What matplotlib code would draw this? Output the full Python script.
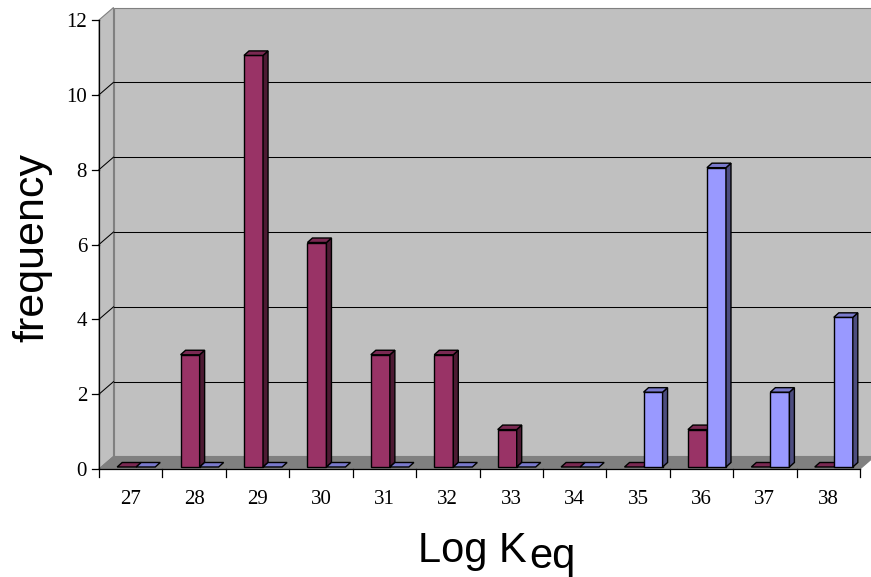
"""
3D-style column histogram of Log Keq (Excel look) drawn with plain matplotlib.
"""
import matplotlib
matplotlib.use('Agg')
import matplotlib.pyplot as plt
import numpy as np
from matplotlib.patches import Polygon
from matplotlib.lines import Line2D
from matplotlib.transforms import IdentityTransform, ScaledTranslation
from matplotlib.colors import to_rgb

# Data
categories = ['27', '28', '29', '30', '31', '32', '33', '34', '35', '36', '37', '38']
series_a = [0, 3, 11, 6, 3, 3, 1, 0, 0, 1, 0, 0]     # maroon
series_b = [0, 0, 0, 0, 0, 0, 0, 0, 2, 8, 2, 4]      # periwinkle
y_ticks = [0, 2, 4, 6, 8, 10, 12]

# Style
DPI = 100
W, H = 871, 577
colors = ['#993366', '#9999FF']
wall_color = '#C0C0C0'
floor_color = '#808080'
edge_gray = '#808080'
WALL_D = (14.5, 12.5)     # depth of the walls, pixels (x right, y up)
BAR_OFF = (5.5, 2.0)      # bar front plane relative to front axis
BAR_D = (5.0, 4.5)        # bar depth
BAR_W = 0.3               # bar width in category units

fig = plt.figure(figsize=(W / DPI, H / DPI), dpi=DPI)
ax = fig.add_axes([99 / W, (H - 469) / H, (860 - 99) / W, (469 - 20) / H])
ax.set_xlim(0, len(categories))
ax.set_ylim(0, 12)
ax.axis('off')

idt = IdentityTransform()


def px(x, y, d=(0, 0)):
    """Data point -> display pixels, pushed back by a depth offset."""
    X, Y = ax.transData.transform((x, y))
    return (X + d[0], Y + d[1])


def add(d1, d2):
    return (d1[0] + d2[0], d1[1] + d2[1])


def poly(pts, fc, ec, lw=0.8, z=1):
    p = Polygon(pts, closed=True, facecolor=fc, edgecolor=ec, linewidth=lw,
                transform=idt, clip_on=False, zorder=z)
    fig.add_artist(p)


def line(p0, p1, color='black', lw=0.75, z=2):
    fig.add_artist(Line2D([p0[0], p1[0]], [p0[1], p1[1]], color=color,
                          linewidth=lw, transform=idt, zorder=z))


n = len(categories)
top = y_ticks[-1]

# walls and floor
poly([px(0, 0, WALL_D), px(n, 0, WALL_D), px(n, top, WALL_D), px(0, top, WALL_D)],
     wall_color, edge_gray, z=1)
poly([px(0, 0), px(0, top), px(0, top, WALL_D), px(0, 0, WALL_D)],
     wall_color, edge_gray, z=1)
poly([px(0, 0), px(n, 0), px(n, 0, WALL_D), px(0, 0, WALL_D)],
     floor_color, edge_gray, z=1.5)

# gridlines on back and side wall
for v in y_ticks[1:-1]:
    line(px(0, v, WALL_D), px(n, v, WALL_D), z=1.6)
    line(px(0, v), px(0, v, WALL_D), z=1.6)

# front axes
line(px(0, 0), px(0, top), lw=0.9, z=5)
line(px(0, 0), px(n, 0), lw=0.9, z=5)
for v in y_ticks:
    line(px(0, v), add(px(0, v), (-7, 0)), lw=0.9, z=5)
for i in range(n + 1):
    line(px(i, 0), add(px(i, 0), (0, -8)), lw=0.9, z=5)

# bars
back = add(BAR_OFF, BAR_D)
zz = 3
for i in range(n):
    for s, vals in enumerate([series_a, series_b]):
        v = vals[i]
        x0 = i + 0.5 - BAR_W + s * BAR_W
        x1 = x0 + BAR_W
        base = np.array(to_rgb(colors[s]))
        front_c = base
        side_c = base * 0.5
        top_c = base * 0.8
        if v > 0:
            poly([px(x0, 0, BAR_OFF), px(x1, 0, BAR_OFF), px(x1, v, BAR_OFF), px(x0, v, BAR_OFF)],
                 front_c, 'black', lw=1.0, z=zz)
            poly([px(x1, 0, BAR_OFF), px(x1, 0, back), px(x1, v, back), px(x1, v, BAR_OFF)],
                 side_c, 'black', lw=1.0, z=zz)
        poly([px(x0, v, BAR_OFF), px(x1, v, BAR_OFF), px(x1, v, back), px(x0, v, back)],
             top_c, 'black', lw=1.0, z=zz)
        zz += 0.01

# tick labels
serif = ['Liberation Serif', 'DejaVu Serif']
for v in y_ticks:
    ax.text(0, v, str(v), ha='right', va='center_baseline', fontsize=15, family=serif,
            transform=ax.transData + ScaledTranslation(-12 / DPI, 0, fig.dpi_scale_trans))
for i, c in enumerate(categories):
    ax.text(i + 0.5, 0, c, ha='center', va='baseline', fontsize=15, family=serif,
            transform=ax.transData + ScaledTranslation(0, -35 / DPI, fig.dpi_scale_trans))

# axis titles
sans = ['Liberation Sans', 'DejaVu Sans']
fig.text(32 / W, 1 - 248 / H, 'frequency', rotation=90, ha='center', va='center',
         fontsize=31, family=sans)
fig.text(527 / W, 1 - 562 / H, 'Log K', ha='right', va='baseline', fontsize=30, family=sans)
fig.text(529 / W, 1 - 568 / H, 'eq', ha='left', va='baseline', fontsize=30, family=sans)

fig.savefig('out.png', dpi=DPI, facecolor='white')
